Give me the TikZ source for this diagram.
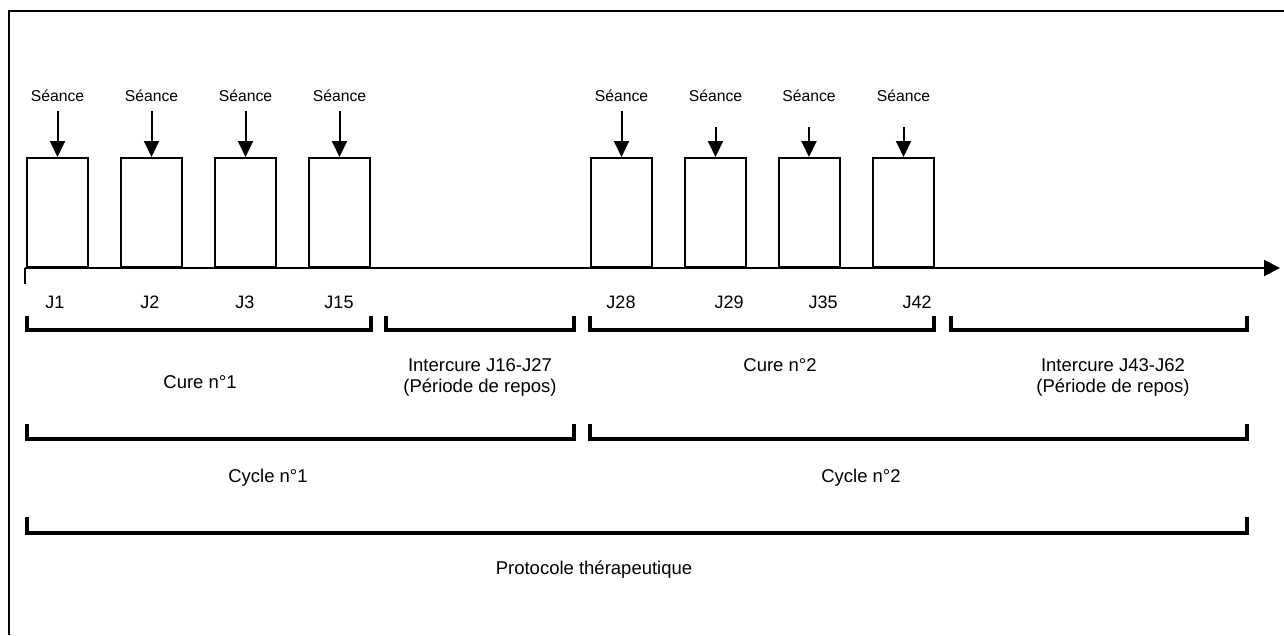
\documentclass[tikz,border=0pt]{standalone}
\usepackage{fontspec}
\setmainfont{Liberation Sans}
\usetikzlibrary{arrows.meta}
\begin{document}
\begin{tikzpicture}[x=1pt,y=-1pt,
  jourbox/.style={draw,line width=2pt,minimum width=61pt,minimum height=109pt,inner sep=0pt},
  seance/.style={anchor=base,inner sep=0pt,font=\fontsize{15.7}{18}\selectfont},
  jlabel/.style={anchor=base,inner sep=0pt,font=\fontsize{18}{21}\selectfont},
  biglabel/.style={anchor=base,inner sep=0pt,font=\fontsize{18.5}{21.5}\selectfont,align=center},
  seancearrow/.style={line width=2pt,-{Triangle[length=16pt,width=15pt]}},
  bracket/.style={line width=4pt,line join=miter,line cap=rect}
]
\useasboundingbox (0,0) rectangle (1284,635);
% frame (top and left only visible)
\draw[line width=2pt] (9,635) -- (9,11) -- (1284,11);

% boxes
\foreach \n/\x in {1/57.5,2/151.5,3/245.5,4/339.5,5/621.5,6/715.5,7/809,8/903.5}{
  \node[jourbox] (b\n) at (\x,212.5) {};
  \node[seance] (s\n) at (\x,101.5) {Séance};
}
% arrow starts
\foreach \n in {1,2,3,4,5}{ \coordinate (a\n) at ([yshift=-9.5pt]s\n.base); }
\foreach \n in {6,7,8}{ \coordinate (a\n) at ([yshift=-25.5pt]s\n.base); }
\foreach \n in {1,...,8}{ \draw[seancearrow] (a\n) -- (b\n.north); }

% time axis
\coordinate (ax0) at (25,268);
\coordinate (axend) at (1280,268);
\coordinate (tick) at (25,284);
\draw[line width=2pt,-{Triangle[length=16pt,width=16pt]}] (ax0) -- (axend);
\draw[line width=2pt] (ax0) -- (tick);

% day labels
\node[jlabel] (j1) at (55,308) {J1};
\node[jlabel] (j2) at (150,308) {J2};
\node[jlabel] (j3) at (245,308) {J3};
\node[jlabel] (j15) at (339,308) {J15};
\node[jlabel] (j28) at (621,308) {J28};
\node[jlabel] (j29) at (729,308) {J29};
\node[jlabel] (j35) at (823,308) {J35};
\node[jlabel] (j42) at (917,308) {J42};

% cure / intercure brackets
\draw[bracket] (27,318) -- (27,330) -- (371,330) -- (371,318);
\draw[bracket] (386,318) -- (386,330) -- (574,330) -- (574,318);
\draw[bracket] (590,318) -- (590,330) -- (934,330) -- (934,318);
\draw[bracket] (951,318) -- (951,330) -- (1247,330) -- (1247,318);

\node[biglabel] (cure1) at (200,388) {Cure n°1};
\node[biglabel] (inter1) at (480,371) {Intercure J16-J27};
\node[biglabel] (inter1b) at (480,392) {(Période de repos)};
\node[biglabel] (cure2) at (780,371) {Cure n°2};
\node[biglabel] (inter2) at (1113,371) {Intercure J43-J62};
\node[biglabel] (inter2b) at (1113,392) {(Période de repos)};

% cycle brackets
\draw[bracket] (27,426) -- (27,439) -- (574,439) -- (574,426);
\draw[bracket] (590,426) -- (590,439) -- (1247,439) -- (1247,426);
\node[biglabel] (cycle1) at (268,482) {Cycle n°1};
\node[biglabel] (cycle2) at (861,482) {Cycle n°2};

% protocol bracket
\draw[bracket] (27,519) -- (27,533) -- (1247,533) -- (1247,519);
\node[biglabel] (proto) at (594,574) {Protocole thérapeutique};
\end{tikzpicture}
\end{document}
